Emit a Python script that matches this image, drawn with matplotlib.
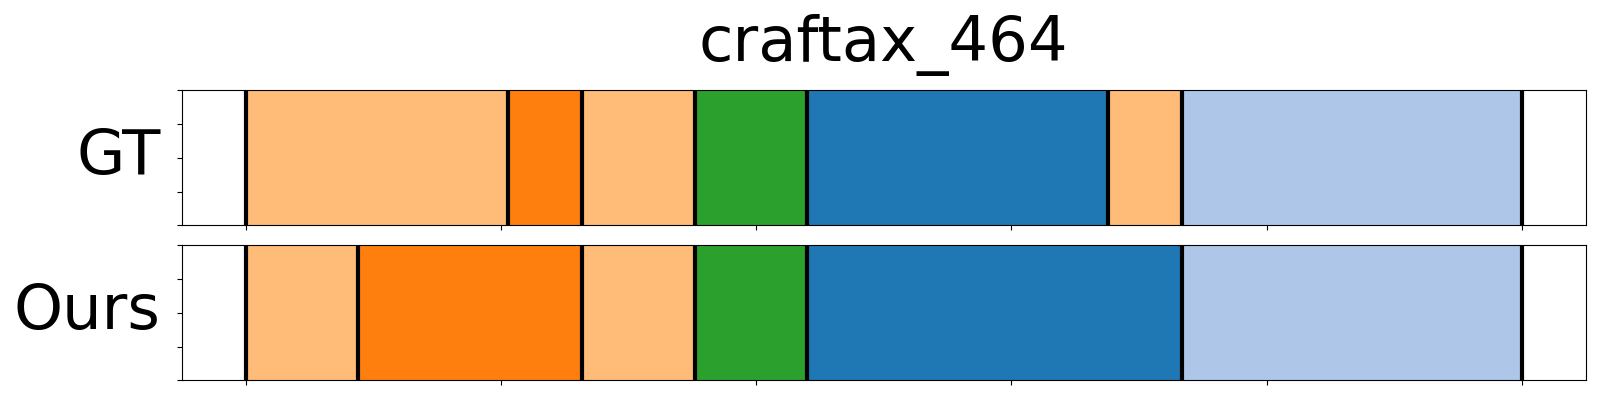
import numpy as np
import matplotlib
matplotlib.use("Agg")
import matplotlib.pyplot as plt

TITLE = "craftax_464"
ROW_NAMES = ["GT", "Ours"]

# segment boundaries (frame index) and segment colours per row
gt_bounds = [0, 103, 132, 176, 220, 338, 367, 500]
gt_colors = ["#ffbb78", "#ff7f0e", "#ffbb78", "#2ca02c", "#1f77b4", "#ffbb78", "#aec7e8"]

ours_bounds = [0, 44, 132, 176, 220, 367, 500]
ours_colors = ["#ffbb78", "#ff7f0e", "#ffbb78", "#2ca02c", "#1f77b4", "#aec7e8"]

rows = [(gt_bounds, gt_colors), (ours_bounds, ours_colors)]

fig, axes = plt.subplots(2, 1, figsize=(16, 4), dpi=100)
fig.subplots_adjust(left=0.1136, right=0.991, top=0.774, bottom=0.049, hspace=0.148)

for ax, name, (bounds, colors) in zip(axes, ROW_NAMES, rows):
    starts = np.array(bounds[:-1])
    widths = np.diff(bounds)
    ax.barh(0.5, widths, left=starts, height=1.0, color=colors, edgecolor=colors, linewidth=0.5)
    for b in bounds:
        ax.axvline(b, color="black", linewidth=3)
    ax.set_ylim(0, 1)
    ax.set_xlim(-25, 525)
    ax.set_yticks(np.linspace(0, 1, 5))
    ax.set_xticks(np.arange(0, 501, 100))
    ax.set_yticklabels([])
    ax.set_xticklabels([])
    ax.set_ylabel(name, fontsize=45, rotation=0, ha="right", va="center")
    ax.yaxis.set_label_coords(-0.015, 0.51)

axes[0].set_title(TITLE, fontsize=45, pad=21)

plt.savefig("out.png")
